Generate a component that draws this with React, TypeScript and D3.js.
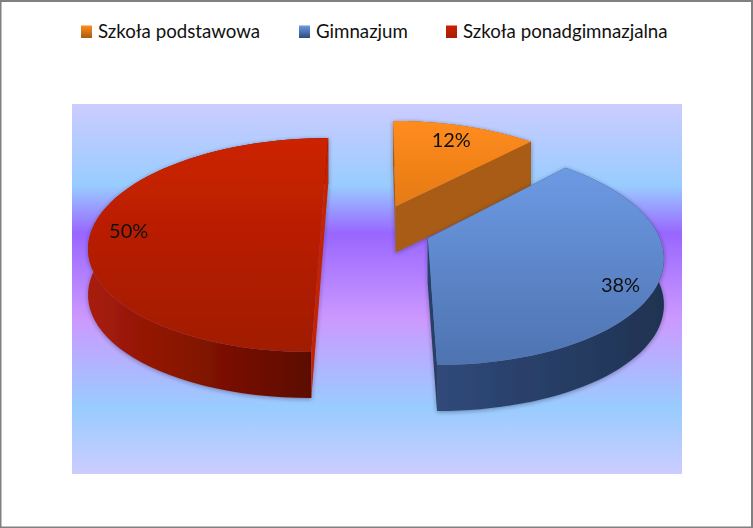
import React from "react";
import * as d3 from "d3";

const categories = ["Szkoła podstawowa", "Gimnazjum", "Szkoła ponadgimnazjalna"];
const values = [12, 38, 50];
const topColors = [
  ["#ff8c1c", "#e57a16"],
  ["#6c9ae4", "#4e73b0"],
  ["#cc2200", "#a01a00"],
];
const wallColors = [
  ["#a85c12", "#a85c12"],
  ["#30497a", "#1f3352"],
  ["#a81c08", "#560800"],
];
const edgeColors = ["#a85c12", "#263f68", "#c42000"];
const legendX = [81, 299, 446];
const legendTextX = [98, 316, 463];
const bgStops: [number, string][] = [
  [0, "#ccccff"],
  [0.22, "#99ccff"],
  [0.35, "#9966ff"],
  [0.58, "#cc99ff"],
  [0.82, "#99ccff"],
  [1, "#ccccff"],
];

const width = 753;
const height = 528;
const plot = { x: 72, y: 104, w: 610, h: 370 };

// perspective of the pie plane
const persp = 0.15;
const explode = 0.24;
const depth = 46;
const sx = d3.scaleLinear().domain([0, 1]).range([376, 376 + 229]);
const sy = d3.scaleLinear().domain([0, 1]).range([229, 229 - 104.6]);

function project(X: number, Y: number, z = 0): [number, number] {
  const w = 1 + persp * Y;
  return [sx(X / w), sy(Y / w) + z];
}

const labelRadius = [0.78, 0.84, 0.84];
const labelNudge = [0, 14, 4];

const line = d3.line();
const arcs = d3.pie<number>().sort(null)(values);

function Slice({ arc, i }: { arc: d3.PieArcDatum<number>; i: number }) {
  const mid = (arc.startAngle + arc.endAngle) / 2;
  const ox = explode * Math.sin(mid);
  const oy = explode * Math.cos(mid);
  const angles = d3.range(0, 61).map(
    (k) => arc.startAngle + ((arc.endAngle - arc.startAngle) * k) / 60,
  );
  const rim = angles.map((a) => project(ox + Math.sin(a), oy + Math.cos(a)));
  const rimLow = angles.map((a) => project(ox + Math.sin(a), oy + Math.cos(a), depth));
  const apex = project(ox, oy);
  const apexLow = project(ox, oy, depth);
  const top = [apex, ...rim];
  const wallA = [apex, rim[0], rimLow[0], apexLow];
  const wallB = [apex, rim[60], rimLow[60], apexLow];
  const outer = [...rim, ...[...rimLow].reverse()];
  const lab = project(
    ox + labelRadius[i] * Math.sin(mid),
    oy + labelRadius[i] * Math.cos(mid),
    labelNudge[i],
  );
  return (
    <g filter="url(#soft)">
      <path d={line(outer) + "Z"} fill={`url(#wall${i})`} />
      <path d={line(wallA) + "Z"} fill={edgeColors[i]} />
      <path d={line(wallB) + "Z"} fill={edgeColors[i]} />
      <path d={line(top) + "Z"} fill={`url(#top${i})`} />
      <text
        x={lab[0]}
        y={lab[1]}
        textAnchor="middle"
        dominantBaseline="middle"
        fontFamily="Lato, sans-serif"
        fontSize={20}
        fill="#111"
      >
        {values[i]}%
      </text>
    </g>
  );
}

export default function App() {
  return (
    <svg
      width={width}
      height={height}
      style={{ position: "absolute", left: 0, top: 0, background: "#fff" }}
    >
      <defs>
        <linearGradient id="bg" x1="0" y1="0" x2="0" y2="1">
          {bgStops.map(([o, c]) => (
            <stop key={o} offset={o} stopColor={c} />
          ))}
        </linearGradient>
        {categories.map((_, i) => (
          <React.Fragment key={i}>
            <linearGradient id={`top${i}`} x1="0" y1="0" x2="0" y2="1">
              <stop offset="0" stopColor={topColors[i][0]} />
              <stop offset="1" stopColor={topColors[i][1]} />
            </linearGradient>
            <linearGradient id={`wall${i}`} x1="0" y1="0" x2="1" y2="0">
              <stop offset="0" stopColor={wallColors[i][0]} />
              <stop offset="1" stopColor={wallColors[i][1]} />
            </linearGradient>
            <linearGradient id={`leg${i}`} x1="0" y1="0" x2="0" y2="1">
              <stop offset="0" stopColor={topColors[i][0]} />
              <stop offset="1" stopColor={wallColors[i][0]} />
            </linearGradient>
          </React.Fragment>
        ))}
        <filter id="soft" x="-10%" y="-10%" width="120%" height="120%">
          <feDropShadow dx="0" dy="1" stdDeviation="2" floodColor="#223" floodOpacity="0.45" />
        </filter>
      </defs>

      <rect x={0.5} y={1} width={width - 1.5} height={height - 1.5} fill="#fff" stroke="#808080" strokeWidth={2} />
      <rect x={plot.x} y={plot.y} width={plot.w} height={plot.h} fill="url(#bg)" />

      {categories.map((c, i) => (
        <g key={c}>
          <rect x={legendX[i]} y={25.5} width={11} height={12.5} fill={`url(#leg${i})`} />
          <text x={legendTextX[i]} y={38} fontFamily="Lato, sans-serif" fontSize={18.7} fill="#111">
            {c}
          </text>
        </g>
      ))}

      {[0, 2, 1].map((i) => (
        <Slice key={i} arc={arcs[i]} i={i} />
      ))}
    </svg>
  );
}
